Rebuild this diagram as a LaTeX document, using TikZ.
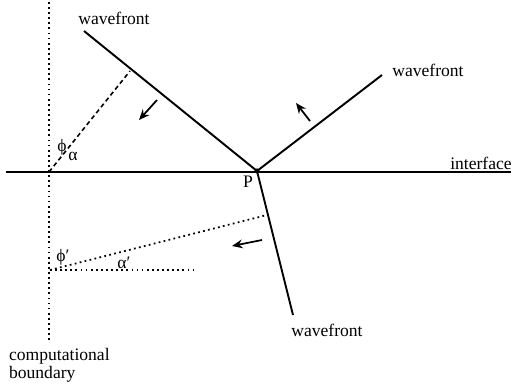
\documentclass[tikz,border=0pt]{standalone}
\usepackage{fontspec}
\setmainfont{Liberation Serif}
\usetikzlibrary{arrows.meta}

\begin{document}
\begin{tikzpicture}[x=0.02cm,y=-0.02cm,
  wave/.style={line width=1.1pt},
  guide/.style={dash pattern=on 1pt off 1.9pt,line width=1pt},
  ray/.style={dash pattern=on 2.5pt off 1.8pt,line width=0.9pt},
  motion/.style={-{Stealth[length=6pt,width=5pt]},line width=1pt},
  lbl/.style={inner sep=1pt,font=\fontsize{10}{10.5}\selectfont}]

% Picture frame
\useasboundingbox (0,0) rectangle (511,389);

% Boundary and interface ends
\coordinate (Btop) at (49,2);
\coordinate (Bbot) at (49,340);
\coordinate (Ileft) at (6,172);
\coordinate (Iright) at (511,172);

% Point P and wavefront ends
\coordinate (P) at (257,171);
\coordinate (Winc) at (84,31);
\coordinate (Wref) at (382,75);
\coordinate (Wtra) at (293,315);

% Normals from the boundary
\coordinate (O1) at (49,172);
\coordinate (N1) at (130,71);
\coordinate (O2) at (50,270);
\coordinate (N2) at (267,215);
\coordinate (H2) at (193,270);

% Draw boundary and interface
\draw[guide] (Btop) -- (Bbot);
\draw[line width=0.9pt] (Ileft) -- (Iright);

% Draw wavefronts
\draw[wave] (Winc) -- (P);
\draw[wave] (P) -- (Wref);
\draw[wave] (P) -- (Wtra);

% Draw normals
\draw[ray] (O1) -- (N1);
\draw[guide] (O2) -- (N2);
\draw[guide] (O2) -- (H2);

% Direction arrows
\coordinate (A1) at (157,100);
\coordinate (A1e) at (139,120);
\coordinate (A2) at (310,121);
\coordinate (A2e) at (296,103);
\coordinate (A3) at (262,240);
\coordinate (A3e) at (232,246);
\draw[motion] (A1) -- (A1e);
\draw[motion] (A2) -- (A2e);
\draw[motion] (A3) -- (A3e);

% Point P
\fill (P) circle (2.6);

% Labels
\node[lbl] (winc) at (114,18) {wavefront};
\node[lbl] (wref) at (428,70) {wavefront};
\node[lbl] (wtra) at (327,330) {wavefront};
\node[lbl] (iface) at (481,163) {interface};
\node[lbl] (p) at (248,182) {P};
\node[lbl] (phi) at (62,147) {ϕ};
\node[lbl] (alpha) at (73,156) {α};
\node[lbl] (phit) at (63,257) {ϕ′};
\node[lbl] (alphat) at (124,263) {α′};
\node[lbl,anchor=north west,align=left] (cb) at (7,346) {computational\\boundary};

\end{tikzpicture}
\end{document}
